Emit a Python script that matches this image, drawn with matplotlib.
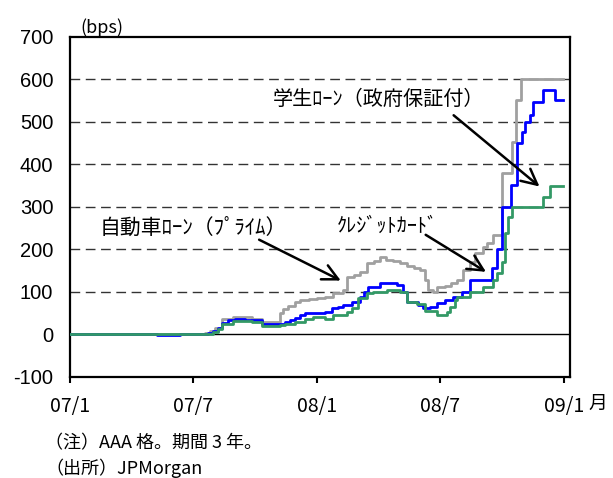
import matplotlib
matplotlib.use("Agg")
import matplotlib.pyplot as plt

plt.rcParams['font.family'] = ['Noto Sans CJK JP', 'DejaVu Sans']

# x positions are months since 2007/1
month_ticks = [0, 6, 12, 18, 24]
month_labels = ["07/1", "07/7", "08/1", "08/7", "09/1"]
y_ticks = [-100, 0, 100, 200, 300, 400, 500, 600, 700]

# 学生ローン（政府保証付）
student_m = [0, 6.55, 6.8, 7.05, 7.39, 7.92, 8.84, 9.33, 10.2, 10.35, 10.6, 10.93,
             11.18, 11.6, 12.0, 12.4, 12.78, 13.27, 13.46, 13.8, 14.09, 14.43, 14.75,
             15.06, 15.35, 15.7, 16.03, 16.38, 16.7, 17.0, 17.25, 17.4, 17.64, 17.83,
             18.2, 18.5, 18.81, 19.1, 19.44, 19.68, 20.07, 20.26, 20.55, 20.99, 21.48,
             21.67, 21.91, 23.96]
student_v = [0, 3, 8, 15, 36, 42, 36, 30, 51, 60, 68, 77,
             81, 83, 85, 89, 97, 105, 136, 140, 148, 168, 172,
             182, 175, 172, 168, 160, 156, 152, 128, 105, 99, 111,
             114, 121, 128, 152, 171, 192, 207, 215, 234, 379, 454,
             552, 600, 600]

# クレジットカード
card_m = [0, 4.23, 5.34, 6.7, 6.95, 7.2, 7.39, 7.68, 8.0, 8.5, 9.33, 10.45,
          10.69, 10.93, 11.18, 11.42, 12.39, 12.71, 13.0, 13.28, 13.69, 14.09, 14.3,
          14.49, 15.06, 15.87, 16.2, 16.36, 16.92, 17.17, 17.49, 17.82, 18.22, 18.63,
          19.03, 19.44, 20.49, 20.73, 20.98, 21.41, 21.7, 21.95, 22.11, 22.35, 22.51,
          23.0, 23.57, 23.96]
card_v = [0, -2, 0, 3, 8, 15, 27, 34, 37, 35, 25, 30,
          35, 39, 46, 50, 53, 62, 65, 69, 77, 89, 101,
          112, 120, 116, 101, 77, 69, 62, 65, 73, 81, 89,
          101, 128, 156, 200, 300, 352, 450, 477, 501, 516, 548,
          575, 552, 552]

# 自動車ローン（プライム）
auto_m = [0, 6.7, 6.95, 7.2, 7.39, 7.92, 8.84, 9.33, 10.2, 10.45, 10.93, 11.42,
          11.8, 12.39, 12.78, 13.46, 13.7, 14.0, 14.43, 14.72, 15.39, 16.03, 16.36,
          16.85, 17.25, 17.82, 18.32, 18.46, 18.71, 18.8, 19.44, 20.07, 20.55, 20.75,
          20.99, 21.15, 21.3, 21.48, 22.98, 23.32, 23.96]
auto_v = [0, 2, 7, 14, 25, 32, 30, 20, 22, 25, 30, 36,
          42, 36, 46, 54, 62, 85, 97, 101, 105, 101, 77,
          72, 55, 46, 54, 65, 81, 89, 101, 112, 128, 144,
          171, 239, 277, 301, 324, 349, 349]

fig = plt.figure(figsize=(6.13, 4.78), dpi=100)
ax = fig.add_axes([0.1142, 0.2113, 0.8157, 0.7113])

for y in [100, 200, 300, 400, 500, 600]:
    ax.axhline(y, color='#333333', lw=1.0, dashes=(7, 4), zorder=1)
ax.axhline(0, color='black', lw=1.0, zorder=1)

ax.plot(student_m, student_v, drawstyle='steps-post', color='#a0a0a0', lw=2.0, zorder=2)
ax.plot(card_m, card_v, drawstyle='steps-post', color='#0000ff', lw=2.0, zorder=3)
ax.plot(auto_m, auto_v, drawstyle='steps-post', color='#339966', lw=2.0, zorder=4)

ax.set_xlim(0, 24.3)
ax.set_ylim(-100, 700)
ax.set_xticks(month_ticks)
ax.set_xticklabels(month_labels, fontsize=14)
ax.set_yticks(y_ticks)
ax.set_yticklabels([str(v) for v in y_ticks], fontsize=14.5, family='Liberation Sans')
ax.tick_params(axis='x', direction='out', length=4, width=1.5, pad=10)
ax.tick_params(axis='y', length=0, pad=12)
for s in ax.spines.values():
    s.set_linewidth(1.6)

ax.text(0.02, 1.0, "(bps)", transform=ax.transAxes, fontsize=13, va='bottom', ha='left')
ax.text(1.036, -0.078, "月", transform=ax.transAxes, fontsize=13.5, va='center', ha='left')

arrow = dict(arrowstyle='->', color='black', lw=1.8, mutation_scale=28)
ax.annotate("学生ﾛｰﾝ（政府保証付）", xy=(9.86, 552), fontsize=14.5, va='center', ha='left')
ax.annotate("", xy=(22.92, 344), xytext=(18.54, 520), arrowprops=arrow)
ax.annotate("自動車ﾛｰﾝ（ﾌﾟﾗｲﾑ）", xy=(1.46, 250), fontsize=15, va='center', ha='left')
ax.annotate("", xy=(13.28, 124), xytext=(9.07, 226), arrowprops=arrow)
ax.annotate("ｸﾚｼﾞｯﾄｶｰﾄﾞ", xy=(12.97, 255), fontsize=14.5, va='center', ha='left')
ax.annotate("", xy=(20.33, 144), xytext=(17.17, 238), arrowprops=arrow)

fig.text(45 / 613, 1 - 443 / 478, "（注）AAA 格。期間 3 年。", fontsize=13, va='center', ha='left')
fig.text(45 / 613, 1 - 468 / 478, "（出所）JPMorgan", fontsize=13, va='center', ha='left')

fig.savefig("out.png", dpi=100)
